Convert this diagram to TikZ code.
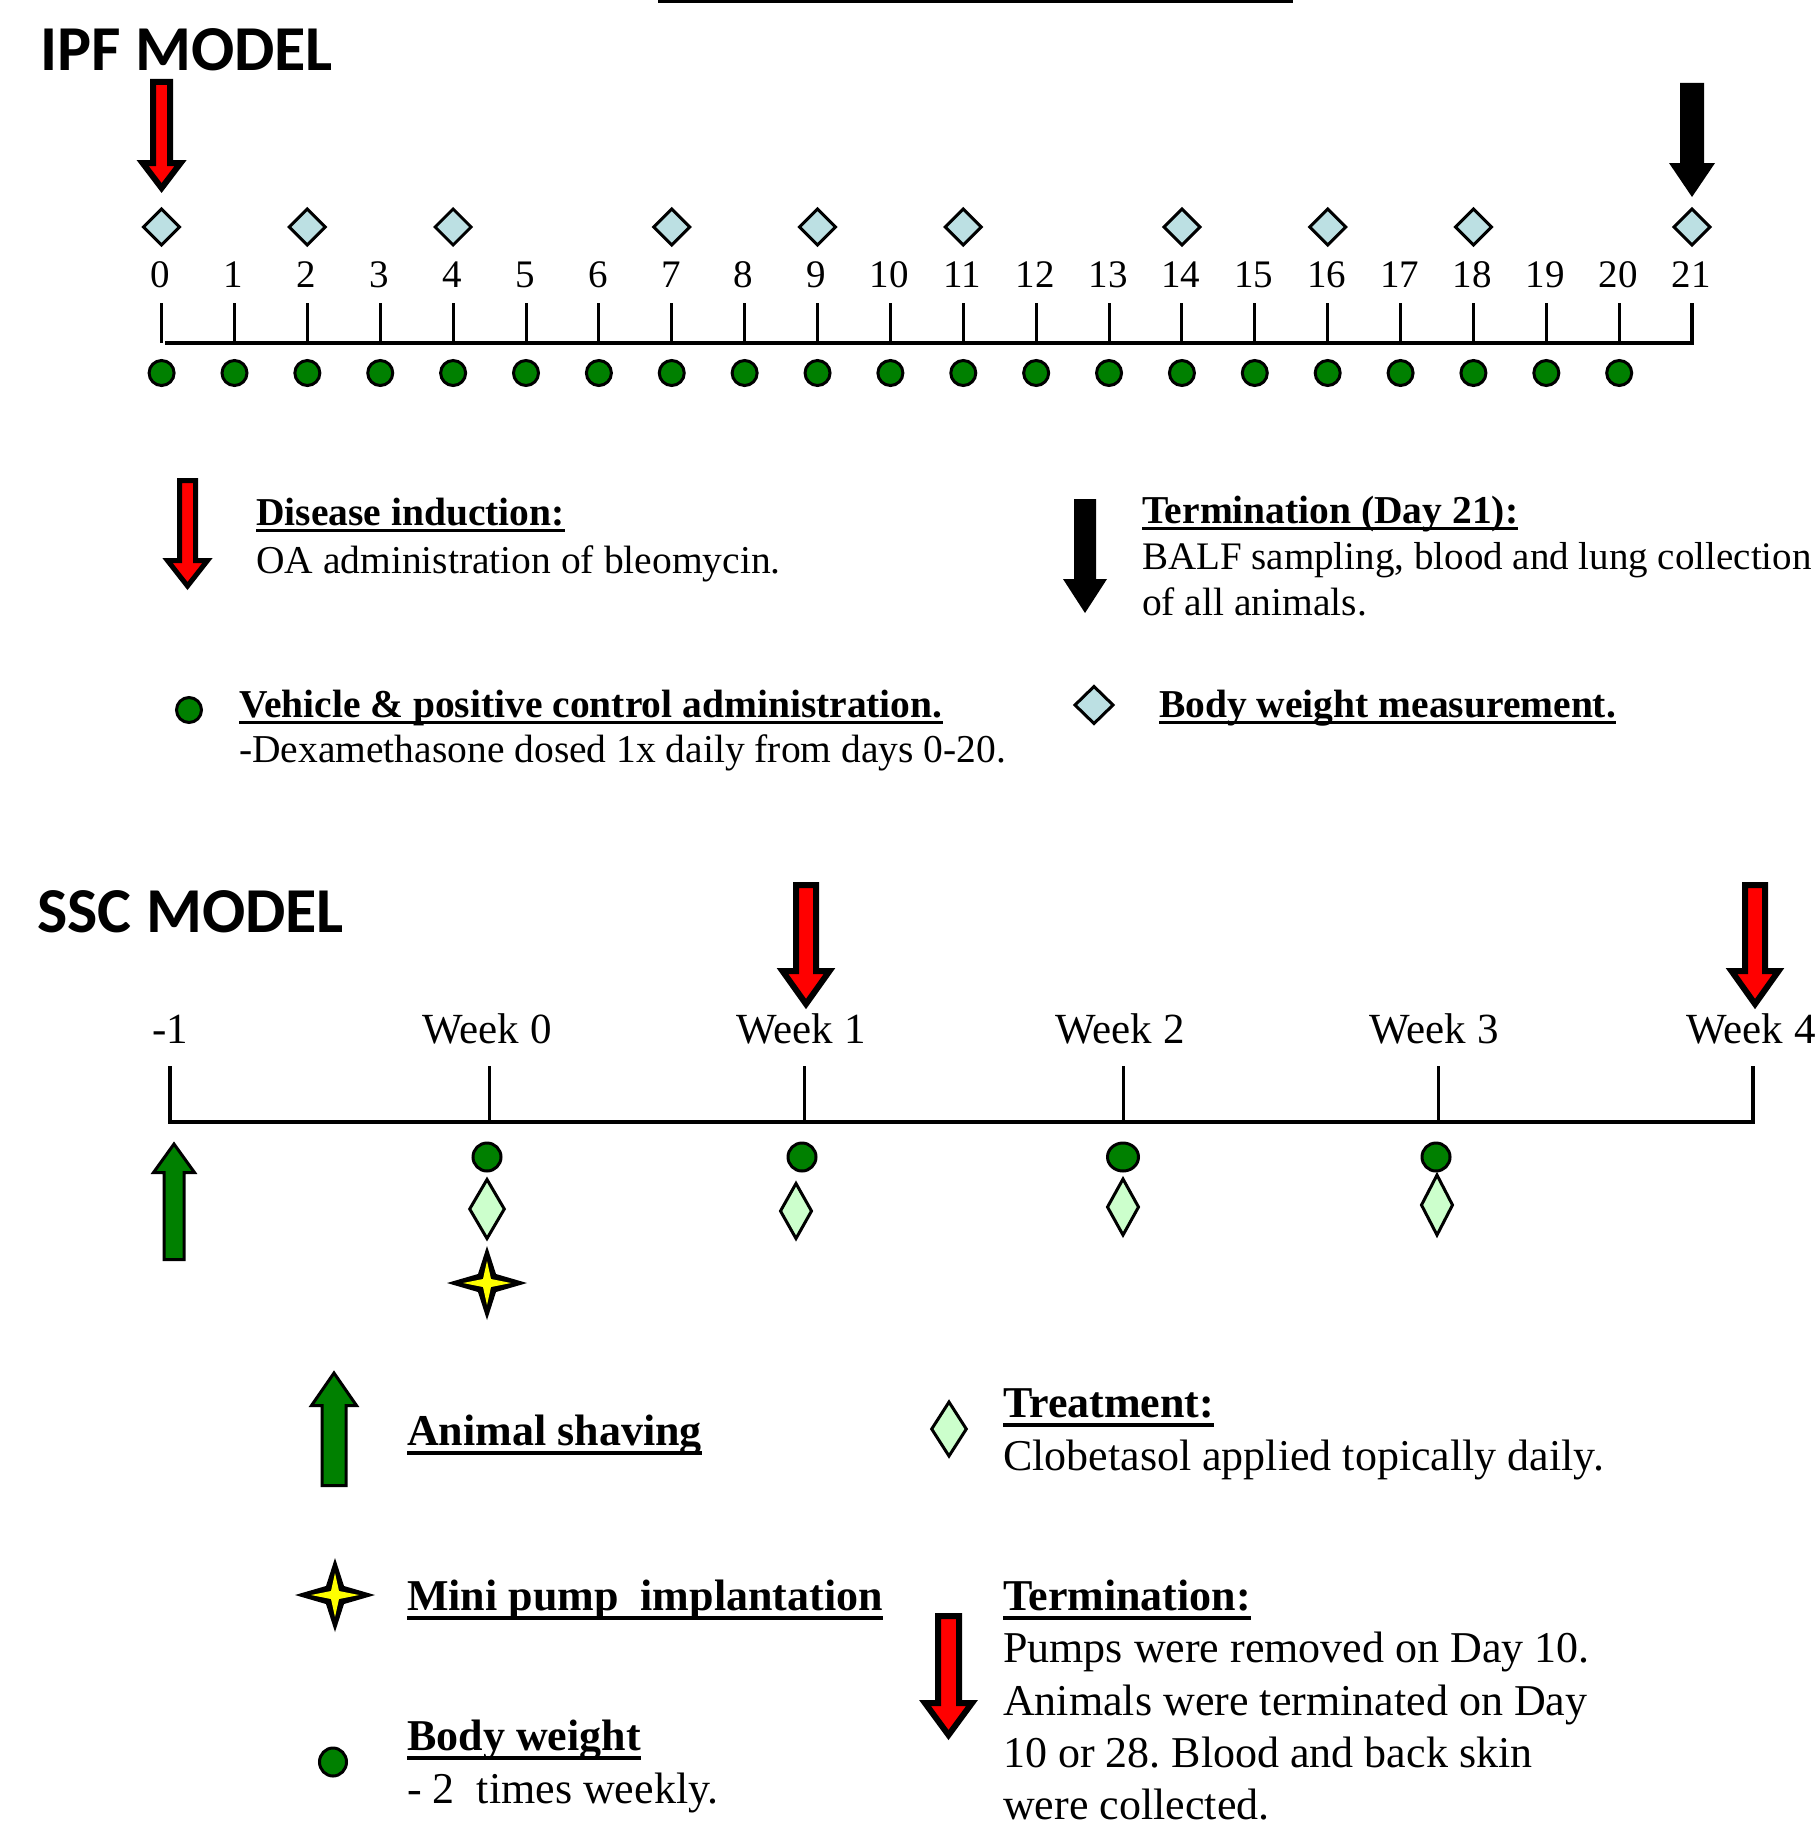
\documentclass[tikz,border=0pt]{standalone}
\usepackage{fontspec}
\setmainfont{Liberation Serif}
\newfontfamily\titlefont{Carlito}
\frenchspacing
\definecolor{ipfblue}{RGB}{188,224,227}
\definecolor{dgreen}{RGB}{0,128,0}
\definecolor{lgreen}{RGB}{204,255,204}
\definecolor{ared}{RGB}{255,0,0}
\definecolor{ystar}{RGB}{255,255,0}

\newcommand\MkArrow[7]{% style, cx, base end, head base, tip, shaft hw, head hw
  \path[#1] (#2-#6,#3) -- (#2+#6,#3) -- (#2+#6,#4) -- (#2+#7,#4) -- (#2,#5) -- (#2-#7,#4) -- (#2-#6,#4) -- cycle;}
\newcommand\MkDiam[5]{% style, cx, cy, hw, hh
  \path[#1] (#2-#4,#3) -- (#2,#3-#5) -- (#2+#4,#3) -- (#2,#3+#5) -- cycle;}
\newcommand\MkStar[6]{% style, cx, cy, Rx, Ry, r
  \path[#1] (#2,#3-#5) -- (#2+#6,#3-#6) -- (#2+#4,#3) -- (#2+#6,#3+#6) -- (#2,#3+#5) -- (#2-#6,#3+#6) -- (#2-#4,#3) -- (#2-#6,#3-#6) -- cycle;}
\newcommand\FullStar[2]{% cx, cy
  \MkStar{fill=black}{#1}{#2}{40}{37}{9}
  \MkStar{fill=ystar}{#1}{#2}{24}{22}{4}}
\newcommand\Uline[3]{\draw[line width=#3pt] ([yshift=-#2pt]#1.base west) -- ([yshift=-#2pt]#1.base east);}

\tikzset{
  title/.style={inner sep=0pt, anchor=base west, font=\titlefont\bfseries\fontsize{64}{70}\selectfont},
  ltxt/.style={inner sep=0pt, anchor=base west, font=\fontsize{39.5}{46}\selectfont},
  lhd/.style={inner sep=0pt, anchor=base west, font=\bfseries\fontsize{39.5}{46}\selectfont},
  stxt/.style={inner sep=0pt, anchor=base west, font=\fontsize{44}{52}\selectfont},
  shd/.style={inner sep=0pt, anchor=base west, font=\bfseries\fontsize{44}{52}\selectfont},
  num/.style={inner sep=0pt, anchor=base, font=\fontsize{39}{46}\selectfont},
  wk/.style={inner sep=0pt, anchor=base, font=\fontsize{43}{50}\selectfont},
  axis/.style={line width=3.5pt},
  tick/.style={line width=3pt},
  redarr/.style={fill=ared, draw=black, line width=6pt, line join=miter},
  redarrl/.style={fill=ared, draw=black, line width=5pt, line join=miter},
  blkarr/.style={fill=black},
  grnarr/.style={fill=dgreen, draw=black, line width=3pt, line join=miter},
  bdia/.style={fill=ipfblue, draw=black, line width=3pt, line join=miter},
  gdia/.style={fill=lgreen, draw=black, line width=3pt, line join=miter},
  dot/.style={fill=dgreen, draw=black, line width=3pt},
}

\begin{document}
\begin{tikzpicture}[x=1pt,y=-1pt]
\useasboundingbox (0,0) rectangle (1816,1825);
\fill[white] (0,0) rectangle (1816,1825);

% top rule
\draw[line width=4pt] (658,1.5) -- (1293,1.5);

% ================= IPF MODEL =================
\node[title] (ipft) at (40,71) {IPF MODEL};

\draw[axis] (165,343) -- (1692,343) -- (1692,303);
\foreach \d in {0,...,20}{
  \pgfmathsetmacro\xx{161.6+72.88*\d}
  \draw[tick] (\xx,303) -- (\xx,343);
}
\foreach \d in {0,...,21}{
  \pgfmathsetmacro\xx{161.6+72.88*\d}
  \node[num] (day\d) at (\xx-1,287) {\d};
}
\foreach \d in {0,...,20}{
  \pgfmathsetmacro\xx{161.6+72.88*\d}
  \path[dot] (\xx,373) ellipse [x radius=12.5pt, y radius=12.5pt];
}
\foreach \d in {0,2,4,7,9,11,14,16,18,21}{
  \pgfmathsetmacro\xx{161.6+72.88*\d}
  \MkDiam{bdia}{\xx}{227}{18}{18}
}
% arrows on the IPF timeline
\MkArrow{redarr}{161.6}{82}{163}{188}{8.5}{19}
\MkArrow{blkarr}{1692}{83}{163}{197}{12}{23}

% IPF legend
\MkArrow{redarrl}{187.5}{480.5}{560.5}{586}{8}{20}
\node[lhd] (di) at (256,525) {Disease induction:};
\Uline{di}{5.5}{3.5}
\node[ltxt] (oa) at (256,573) {OA administration of bleomycin.};

\MkArrow{blkarr}{1085}{499}{579}{613}{11}{22}
\node[lhd] (term) at (1142,523) {Termination (Day 21):};
\Uline{term}{5.5}{3.5}
\node[ltxt, font=\fontsize{39}{46}\selectfont] (balf) at (1142,569) {BALF sampling, blood and lung collection};
\node[ltxt] (oaa) at (1142,615) {of all animals.};

\path[dot] (189,710) ellipse [x radius=12.5pt, y radius=12.5pt];
\node[lhd] (veh) at (239,717) {Vehicle \& positive control administration.};
\Uline{veh}{5.5}{3.5}
\node[ltxt] (dex) at (239,762) {-Dexamethasone dosed 1x daily from days 0-20.};

\MkDiam{bdia}{1094}{705}{19}{18.5}
\node[lhd] (bwm) at (1159,717) {Body weight measurement.};
\Uline{bwm}{5.5}{3.5}

% ================= SSC MODEL =================
\node[title] (ssct) at (37,932) {SSC MODEL};

\draw[axis] (170,1066) -- (170,1122) -- (1753,1122) -- (1753,1066);
\foreach \x in {489,804,1123,1438}{
  \draw[tick] (\x,1066) -- (\x,1122);
}
\node[wk] (wm1) at (170,1043) {-1};
\node[wk] (w0) at (487,1043) {Week 0};
\node[wk] (w1) at (801,1043) {Week 1};
\node[wk] (w2) at (1120,1043) {Week 2};
\node[wk] (w3) at (1434,1043) {Week 3};
\node[wk] (w4) at (1751,1043) {Week 4};

\MkArrow{redarr}{806}{885}{971}{1004}{10}{23.5}
\MkArrow{redarr}{1755}{885}{971}{1004}{10}{23.5}

\MkArrow{grnarr}{174}{1259.5}{1172.5}{1144}{10}{20.5}

\path[dot] (487,1157) ellipse [x radius=14pt, y radius=14pt];
\path[dot] (802,1157) ellipse [x radius=14pt, y radius=14pt];
\path[dot] (1123,1157) ellipse [x radius=15.5pt, y radius=14pt];
\path[dot] (1436,1157) ellipse [x radius=14pt, y radius=14pt];

\MkDiam{gdia}{487}{1209}{17.3}{29.5}
\MkDiam{gdia}{796}{1211}{15.5}{27.5}
\MkDiam{gdia}{1123}{1207}{15.5}{28}
\MkDiam{gdia}{1437}{1205}{15.5}{30}

\FullStar{487}{1283}

% SSC legend
\MkArrow{grnarr}{334}{1485.5}{1405.5}{1373}{12}{22.5}
\node[shd] (shav) at (407,1445) {Animal shaving};
\Uline{shav}{7.5}{4}

\MkDiam{gdia}{949}{1429}{17.3}{27}
\node[shd] (treat) at (1003,1417) {Treatment:};
\Uline{treat}{8}{4}
\node[stxt] (clob) at (1003,1470) {Clobetasol applied topically daily.};

\FullStar{335}{1595}
\node[shd] (mini) at (407,1610) {Mini pump\ \ implantation};
\Uline{mini}{8}{4}

\MkArrow{redarr}{948.5}{1616}{1703}{1735}{10.5}{23.5}
\node[shd] (sterm) at (1003,1610) {Termination:};
\Uline{sterm}{8}{4}
\node[stxt] (p1) at (1003,1662) {Pumps were removed on Day 10.};
\node[stxt] (p2) at (1003,1715) {Animals were terminated on Day};
\node[stxt] (p3) at (1003,1767) {10 or 28. Blood and back skin};
\node[stxt] (p4) at (1003,1819) {were collected.};

\path[dot] (333,1762) ellipse [x radius=13.5pt, y radius=14pt];
\node[shd] (bw) at (407,1750) {Body weight};
\Uline{bw}{8}{4}
\node[stxt] (tw) at (407,1803) {- 2\ \ times weekly.};
\end{tikzpicture}
\end{document}
